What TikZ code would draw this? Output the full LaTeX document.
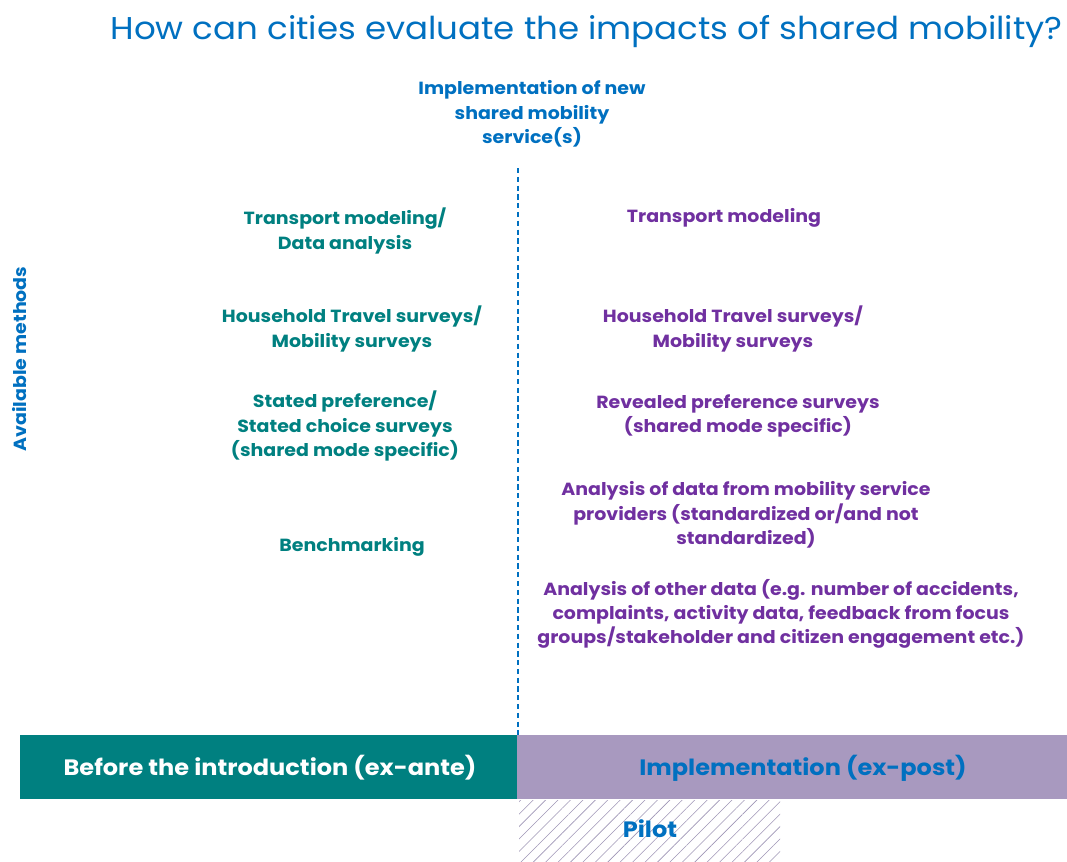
\documentclass[tikz,border=0pt]{standalone}
\usepackage{fontspec}
\setmainfont{Poppins}[FakeStretch=1.08]
\usetikzlibrary{positioning,patterns.meta}

\definecolor{titleblue}{HTML}{0070C0}
\definecolor{anteteal}{HTML}{008080}
\definecolor{postpurple}{HTML}{7030A0}
\definecolor{postbar}{HTML}{A899BF}
\definecolor{hatchgray}{HTML}{9E95B5}

\tikzset{
  method/.style={font=\bfseries\fontsize{15}{20.8}\selectfont, align=center, inner sep=0pt},
  ante/.style={method, text=anteteal},
  post/.style={method, text=postpurple},
  barlabel/.style={method, font=\bfseries\fontsize{19}{22}\selectfont}
}

\begin{document}
\begin{tikzpicture}[x=0.03cm,y=-0.03cm]
    \useasboundingbox (0,0) rectangle (1067,861);
    % title and axis labels
    \node[anchor=east, inner sep=0pt, text=titleblue, font=\fontsize{26.9}{30}\selectfont] (title) at (1063,32)
        {How can cities evaluate the impacts of shared mobility?};
    \node[method, text=titleblue] (impl) at (532,114) {Implementation of new\\shared mobility\\service(s)};
    \node[method, text=titleblue, rotate=90] (avail) at (20,359) {Available methods};
    \coordinate (top) at (518,168);
    \coordinate (bot) at (518,735);
    \draw[titleblue, line width=2.3pt, dash pattern=on 4.5pt off 3pt] (top) -- (bot);

    % before (ex-ante)
    \node[ante] (a_tm)  at (345,231) {Transport modeling/\\Data analysis};
    \node[ante] (a_hts) at (352,329) {Household Travel surveys/\\Mobility surveys};
    \node[ante] (a_sp)  at (345,426) {Stated preference/\\Stated choice surveys\\(shared mode specific)};
    \node[ante] (a_bm)  at (352,547) {Benchmarking};

    % implementation (ex-post)
    \node[post] (p_tm)  at (724,218) {Transport modeling};
    \node[post] (p_hts) at (733,329) {Household Travel surveys/\\Mobility surveys};
    \node[post] (p_rp)  at (738,416) {Revealed preference surveys\\(shared mode specific)};
    \node[post] (p_msp) at (746,515) {Analysis of data from mobility service\\providers (standardized or/and not\\standardized)};
    \node[post] (p_oth) at (781,614) {Analysis of other data (e.g. number of accidents,\\complaints, activity data, feedback from focus\\groups/stakeholder and citizen engagement etc.)};

    % time line
    \fill[anteteal] (20,735) rectangle (517,799);
    \fill[postbar] (517,735) rectangle (1067,799);
    \fill[pattern={Lines[angle=45,distance=7.5pt,line width=0.5pt]}, pattern color=hatchgray] (519,800) rectangle (780,861);
    \node[barlabel, text=white] (ante) at (270,768) {Before the introduction (ex-ante)};
    \node[barlabel, text=titleblue] (post) at (803,768) {Implementation (ex-post)};
    \node[barlabel, text=titleblue] (pilot) at (650,829) {Pilot};
\end{tikzpicture}
\end{document}
